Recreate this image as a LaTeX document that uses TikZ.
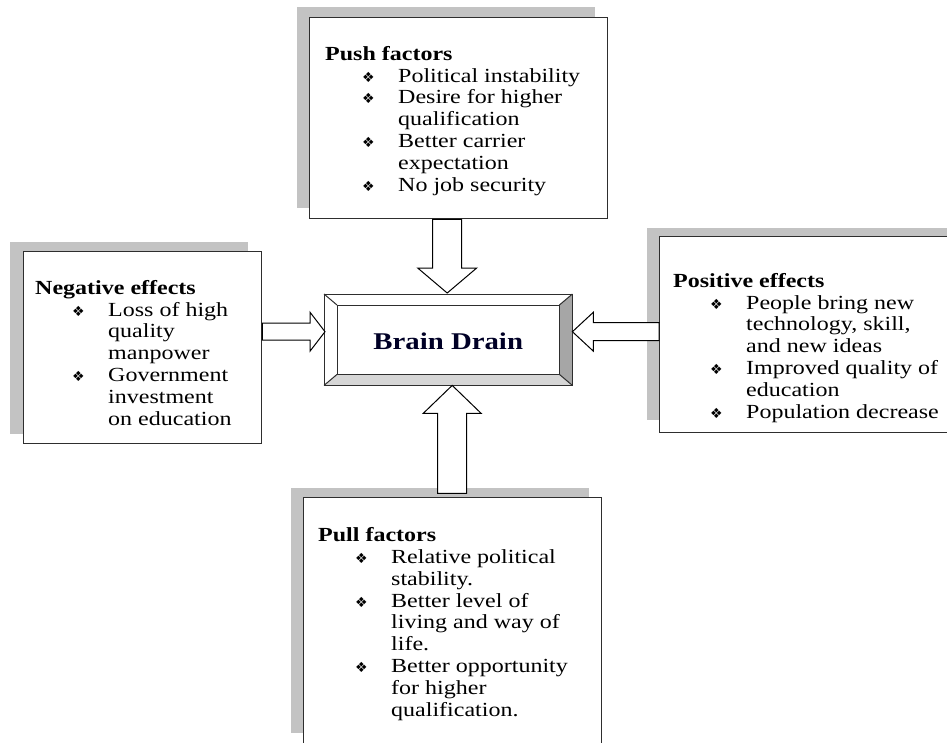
\documentclass[tikz,border=0pt]{standalone}
\usepackage{fontspec}
\setmainfont{Liberation Serif}[FakeStretch=1.2]
\newfontfamily\dejavu{DejaVu Sans}
\usetikzlibrary{calc}
\newcommand\bul{{\dejavu\fontsize{14}{14}\selectfont ❖}}
\newcommand\bitem[1]{\hspace*{37pt}\makebox[36pt][l]{\bul}#1}
\newcommand\ctl[1]{\hspace*{73pt}#1}
\definecolor{shadowgray}{HTML}{C3C3C3}
\definecolor{boxline}{HTML}{2E2E2E}
\tikzset{
  frame/.style={draw=boxline, line width=1.4pt, fill=white, inner sep=0pt, anchor=north west},
  shadowbox/.style={fill=shadowgray, draw=none, inner sep=0pt, anchor=north west},
  boxtext/.style={anchor=base west, align=left, inner sep=0pt, font=\fontsize{20}{21.8}\selectfont},
  blockarrow/.style={draw=black, line width=1pt, fill=white, line join=miter},
  bevel/.style={draw=boxline, line width=1pt}
}
\begin{document}
\begin{tikzpicture}[x=1pt,y=-1pt]
\useasboundingbox (0,0) rectangle (947,742);
\clip (0,0) rectangle (947,742);
% shadows
\node[shadowbox, minimum width=298pt, minimum height=201pt] (pushsh) at (297,7) {};
\node[shadowbox, minimum width=238pt, minimum height=192pt] (negsh) at (10,242) {};
\node[shadowbox, minimum width=301pt, minimum height=192pt] (possh) at (647,228) {};
\node[shadowbox, minimum width=298pt, minimum height=245pt] (pullsh) at (291,488) {};
% centre box
\node[inner sep=0pt, minimum width=248pt, minimum height=91pt, anchor=north west] (bd) at (324,294) {};
\coordinate (iNW) at ($(bd.north west)+(13,11)$);
\coordinate (iNE) at ($(bd.north east)+(-13,11)$);
\coordinate (iSW) at ($(bd.south west)+(13,-11)$);
\coordinate (iSE) at ($(bd.south east)+(-13,-11)$);
\fill[white] (bd.north west) rectangle (bd.south east);
\fill[gray!70] (bd.north east) -- (bd.south east) -- (iSE) -- (iNE) -- cycle;
\fill[gray!32] (bd.south west) -- (bd.south east) -- (iSE) -- (iSW) -- cycle;
\draw[bevel] (bd.north west) rectangle (bd.south east);
\draw[bevel] (iNW) rectangle (iSE);
\draw[bevel] (bd.north west) -- (iNW) (bd.north east) -- (iNE) (bd.south west) -- (iSW) (bd.south east) -- (iSE);
\node[font=\bfseries\fontsize{24}{24}\selectfont, text=black!85!blue, inner sep=0pt] (bdtxt) at ($(bd.center)+(0,2)$) {Brain Drain};
% boxes
\node[frame, minimum width=298pt, minimum height=201pt] (push) at (309,17) {};
\node[frame, minimum width=238pt, minimum height=192pt] (neg) at (23,251) {};
\node[frame, minimum width=301pt, minimum height=196pt] (pos) at (659,236) {};
\node[frame, minimum width=298pt, minimum height=270pt] (pull) at (303,497) {};
% block arrows
\coordinate (tT) at ($(bd.north)+(-1,-1)$);
\coordinate (tB) at ($(bd.south)+(4,0)$);
\coordinate (tL) at ($(bd.west)+(1,-8)$);
\coordinate (tR) at ($(bd.east)+(0,-8)$);
\draw[blockarrow] (tT) -- ++(-29.5,-25) -- ++(15,0) -- ({$(tT)+(-14.5,0)$} |- push.south) -- ({$(tT)+(14.5,0)$} |- push.south) -- ($(tT)+(14.5,-25)$) -- ++(15,0) -- cycle;
\draw[blockarrow] (tB) -- ++(-29,28) -- ++(14.5,0) -- ++(0,80) -- ++(29,0) -- ++(0,-80) -- ++(14.5,0) -- cycle;
\draw[blockarrow] (tL) -- ++(-15,-19.5) -- ++(0,11) -- (neg.east |- {$(tL)+(0,-8.5)$}) -- (neg.east |- {$(tL)+(0,8.5)$}) -- ($(tL)+(-15,8.5)$) -- ++(0,11) -- cycle;
\draw[blockarrow] (tR) -- ++(21,-19.5) -- ++(0,10.5) -- (pos.west |- {$(tR)+(0,-9)$}) -- (pos.west |- {$(tR)+(0,9)$}) -- ($(tR)+(21,9)$) -- ++(0,10.5) -- cycle;
% texts (anchored at the baseline of their last line)
\node[boxtext] (pushtxt) at (325,191) {\textbf{Push factors}\\
\bitem{Political instability}\\
\bitem{Desire for higher}\\
\ctl{qualification}\\
\bitem{Better carrier}\\
\ctl{expectation}\\
\bitem{No job security}};
\node[boxtext] (negtxt) at (35,425) {\textbf{Negative effects}\\
\bitem{Loss of high}\\
\ctl{quality}\\
\ctl{manpower}\\
\bitem{Government}\\
\ctl{investment}\\
\ctl{on education}};
\node[boxtext] (postxt) at (673,418) {\textbf{Positive effects}\\
\bitem{People bring new}\\
\ctl{technology, skill,}\\
\ctl{and new ideas}\\
\bitem{Improved quality of}\\
\ctl{education}\\
\bitem{Population decrease}};
\node[boxtext] (pulltxt) at (318,716) {\textbf{Pull factors}\\
\bitem{Relative political}\\
\ctl{stability.}\\
\bitem{Better level of}\\
\ctl{living and way of}\\
\ctl{life.}\\
\bitem{Better opportunity}\\
\ctl{for higher}\\
\ctl{qualification.}};
\end{tikzpicture}
\end{document}
